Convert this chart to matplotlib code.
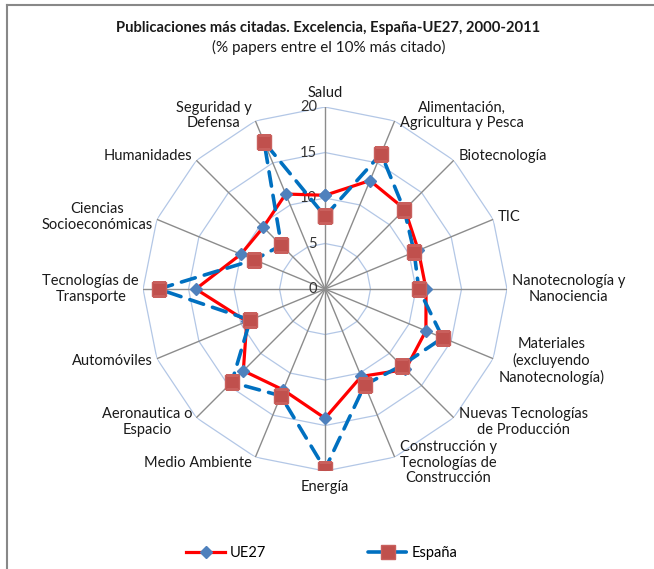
import matplotlib.pyplot as plt
import numpy as np
from matplotlib.lines import Line2D
from matplotlib.transforms import offset_copy

plt.rcParams['font.family'] = ['Lato', 'DejaVu Sans']

categories = ['Salud', 'Alimentación,\nAgricultura y Pesca', 'Biotecnología', 'TIC',
              'Nanotecnología y\nNanociencia', 'Materiales\n(excluyendo\nNanotecnología)',
              'Nuevas Tecnologías\nde Producción', 'Construcción y\nTecnologías de\nConstrucción',
              'Energía', 'Medio Ambiente', 'Aeronautica o\nEspacio', 'Automóviles',
              'Tecnologías de\nTransporte', 'Ciencias\nSocioeconómicas', 'Humanidades',
              'Seguridad y\nDefensa']
ue27 = [10.3, 12.9, 12.4, 11.1, 11.1, 12.0, 12.5, 10.4, 14.2, 12.0, 12.7, 9.3, 14.2, 10.0, 9.6, 11.3]
espana = [8.0, 16.1, 12.3, 10.6, 10.3, 14.0, 11.9, 11.4, 19.8, 12.7, 14.5, 8.9, 18.3, 8.4, 6.8, 17.5]
rings = [5, 10, 15, 20]
ring_labels = ['0', '5', '10', '15', '20']

fig = plt.figure(figsize=(6.54, 5.69), dpi=100)
ax = fig.add_axes([0.2187, 0.1722, 0.5566, 0.6397], projection='polar')
ax.set_theta_zero_location('N')
ax.set_theta_direction(-1)
ax.set_ylim(0, 20)
ax.grid(False)
ax.set_xticks([])
ax.set_yticks([])
ax.spines['polar'].set_visible(False)
ax.patch.set_alpha(0)

n = len(categories)
theta = np.arange(n) * 2 * np.pi / n
closed = np.append(theta, theta[0])

# polygon grid
for r in rings:
    ax.plot(closed, [r] * (n + 1), color='#B3C7E6', lw=0.9, zorder=1)
for t in theta:
    ax.plot([t, t], [0, 20], color='#8C8C8C', lw=1.0, zorder=1)

# value labels on the first axis
for i, lab in enumerate(ring_labels):
    tr = offset_copy(ax.transData, fig=fig, x=-8, y=0, units='dots')
    ax.text(0, i * 5, lab, transform=tr, ha='right', va='center', fontsize=10.5, color='#333333')

# category labels
for t, lab in zip(theta, categories):
    s, c = np.sin(t), np.cos(t)
    if abs(s) < 0.1:
        ha = 'center'
        va = 'bottom' if c > 0 else 'top'
        dx, dy = 0, (7 if c > 0 else -9)
    else:
        ha = 'left' if s > 0 else 'right'
        va = 'center'
        dx, dy = (5 if s > 0 else -4), 6 * c
    tr = offset_copy(ax.transData, fig=fig, x=dx, y=dy, units='dots')
    ax.text(t, 20, lab, transform=tr, ha=ha, va=va, ma='center', fontsize=10.5,
            color='#1a1a1a', linespacing=1.15)

ax.plot(closed, np.append(ue27, ue27[0]), color='#FF0000', lw=2.3, marker='D',
        markersize=6, markerfacecolor='#4F81BD', markeredgecolor='#4F81BD',
        label='UE27', zorder=3)
ax.plot(closed, np.append(espana, espana[0]), color='#0070C0', lw=2.6, ls=(0, (4, 2.6)),
        dash_capstyle='round', marker='s', markersize=9.5, markerfacecolor='#C0504D',
        markeredgecolor='#C9605D', label='España', zorder=4)

fig.text(0.501, 1 - 28 / 569, 'Publicaciones más citadas. Excelencia, España-UE27, 2000-2011',
         ha='center', va='center', fontsize=10.6, fontweight='bold', color='#1a1a1a')
fig.text(0.503, 1 - 47 / 569, '(% papers entre el 10% más citado)',
         ha='center', va='center', fontsize=11, color='#1a1a1a')

fig.legend(loc='center', bbox_to_anchor=(0.492, 1 - 553 / 569), ncol=2, frameon=False,
           fontsize=10.5, handlelength=2.7, columnspacing=7.0, handletextpad=0.3)

# chart border (top and left edges visible)
fig.add_artist(Line2D([7 / 654, 1], [1 - 5 / 569, 1 - 5 / 569], transform=fig.transFigure,
                      color='#888888', lw=1.5))
fig.add_artist(Line2D([7 / 654, 7 / 654], [0, 1 - 5 / 569], transform=fig.transFigure,
                      color='#888888', lw=1.5))

fig.savefig('out.png', dpi=100)
